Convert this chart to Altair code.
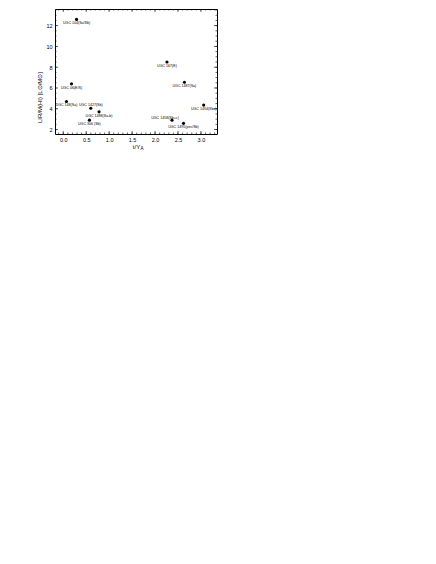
import altair as alt
import pandas as pd

# ---- data ----
names = ["UGC 104(Sa/Sb)", "UGC 167(E)", "UGC 06(E/S)", "UGC 1487(Sa)", "UGC 148(Sa)",
         "UGC 1494(Sbc)", "UGC 1427(Sb)", "UGC 1488(Sa-b)", "UGC 1458(Sb+c)",
         "UGC 306 (Sb)", "UGC 1495(pec/Sb)"]
t_ratio = [0.29, 2.26, 0.18, 2.64, 0.07, 3.06, 0.60, 0.78, 2.37, 0.57, 2.62]
lum_ratio = [12.6, 8.5, 6.4, 6.55, 4.7, 4.35, 4.05, 3.7, 2.9, 2.9, 2.6]
label_pos = ["below", "below", "below", "below", "below", "below", "above", "below",
             "left", "below", "below"]

x_major = [0.0, 0.5, 1.0, 1.5, 2.0, 2.5, 3.0]
x_minor = [round(-0.1 + 0.1 * i, 1) for i in range(35)]
y_major = [2, 4, 6, 8, 10, 12]
y_minor = [2 + 0.5 * i for i in range(24)]

X_DOMAIN = [-0.18, 3.35]
Y_DOMAIN = [1.57, 13.6]
W, H = 162, 125
Y_TITLE = "LIR/M(HI) [L⊙/M⊙]"

df = pd.DataFrame({"name": names, "t": t_ratio, "L": lum_ratio, "pos": label_pos})
xs = alt.Scale(domain=X_DOMAIN, nice=False, zero=False)
ys = alt.Scale(domain=Y_DOMAIN, nice=False, zero=False)

common_axis = dict(ticks=False, domain=False, grid=False, labelFontSize=5.5,
                   labelPadding=3, labelOverlap=False, labelColor="black",
                   titleColor="black", titleFontWeight="normal",
                   labelFont="Liberation Sans", titleFont="Liberation Sans",
                   labelBound=False, labelFlush=False)
x_axis = alt.Axis(values=x_major, format=".1f", title="t/Y", titleFontSize=6,
                  titlePadding=1, **common_axis)
y_axis = alt.Axis(values=y_major, format="d", title=Y_TITLE,
                  titleFontSize=6, titleX=-13, titleY=88, **common_axis)

def X(field):
    return alt.X(field, scale=xs, axis=x_axis, title="t/Y")

def Y(field):
    return alt.Y(field, scale=ys, axis=y_axis, title=Y_TITLE)

points = alt.Chart(df).mark_circle(size=10, color="black", opacity=1).encode(
    x=X("t:Q"), y=Y("L:Q"))

txt_style = dict(fontSize=3.6, font="Liberation Sans", color="black")
lab_below = alt.Chart(df).mark_text(baseline="top", dy=2, **txt_style).encode(
    x=X("t:Q"), y=Y("L:Q"), text="name:N").transform_filter(alt.datum.pos == "below")
lab_above = alt.Chart(df).mark_text(baseline="bottom", dy=-1, **txt_style).encode(
    x=X("t:Q"), y=Y("L:Q"), text="name:N").transform_filter(alt.datum.pos == "above")
lab_left = alt.Chart(df).mark_text(align="center", baseline="bottom", dx=-7, dy=0,
                                   **txt_style).encode(
    x=X("t:Q"), y=Y("L:Q"), text="name:N").transform_filter(alt.datum.pos == "left")

def xticks(vals, length):
    d = pd.DataFrame({"v": vals})
    bot = alt.Chart(d).mark_rule(color="black", strokeWidth=0.6, clip=True).encode(
        x=X("v:Q"), y=alt.value(H), y2=alt.value(H - length))
    top = alt.Chart(d).mark_rule(color="black", strokeWidth=0.6, clip=True).encode(
        x=X("v:Q"), y=alt.value(0), y2=alt.value(length))
    return [bot, top]

def yticks(vals, length):
    d = pd.DataFrame({"v": vals})
    lft = alt.Chart(d).mark_rule(color="black", strokeWidth=0.6, clip=True).encode(
        y=Y("v:Q"), x=alt.value(0), x2=alt.value(length))
    rgt = alt.Chart(d).mark_rule(color="black", strokeWidth=0.6, clip=True).encode(
        y=Y("v:Q"), x=alt.value(W), x2=alt.value(W - length))
    return [lft, rgt]

sub_a = alt.Chart(pd.DataFrame({"s": ["A"]})).mark_text(
    fontSize=4.5, font="Liberation Sans", color="black", align="left", baseline="top"
).encode(x=alt.value(W / 2 + 4.5), y=alt.value(H + 12), text="s:N")

layers = [points] + xticks(x_minor, 1.5) + xticks(x_major, 3) + \
    yticks(y_minor, 1.5) + yticks(y_major, 3) + [lab_below, lab_above, lab_left, sub_a]

chart = alt.layer(*layers).properties(
    width=W, height=H,
    autosize=alt.AutoSizeParams(type="none"),
    padding={"left": 47, "top": 1, "right": 12, "bottom": 30}
).configure_view(stroke="black", strokeWidth=1)

chart.save("out.html", embed_options={"renderer": "svg", "actions": False})
